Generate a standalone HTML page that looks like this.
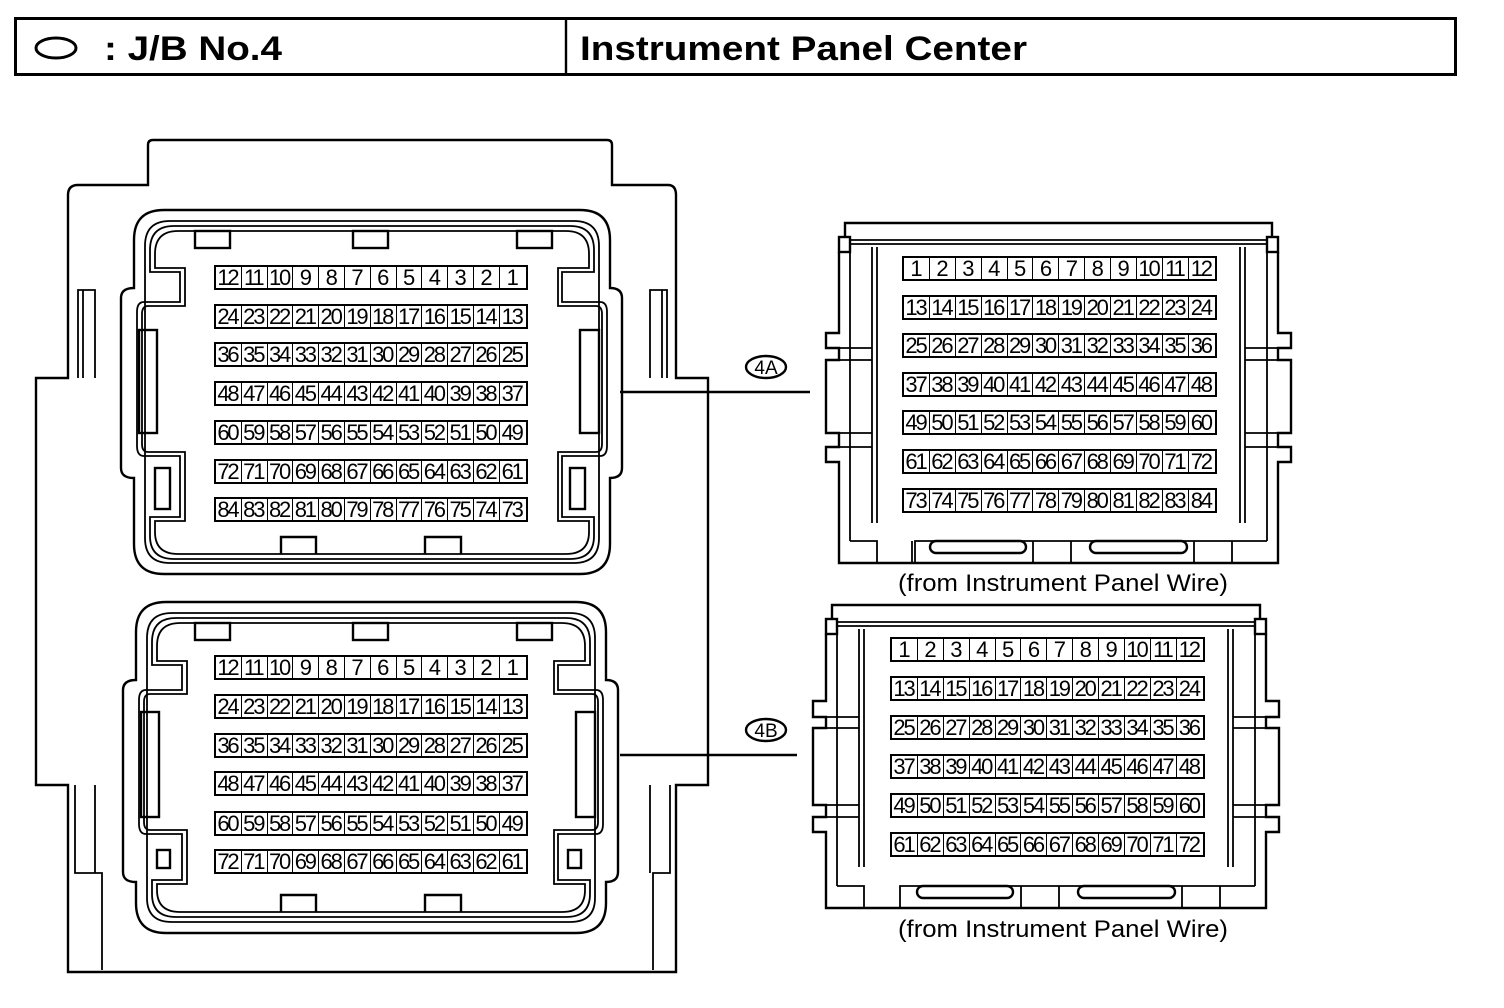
<!DOCTYPE html>
<html><head><meta charset="utf-8"><style>
html,body{margin:0;padding:0;background:#fff}
body{width:1504px;height:1008px;position:relative;overflow:hidden;font-family:"Liberation Sans",sans-serif}
svg{position:absolute;left:0;top:0}
.g{position:absolute;display:flex;border:2.5px solid #000;height:21px;background:#fff}
.g i{font-style:normal;box-sizing:border-box;width:25.8px;height:21px;border-right:1.5px solid #000;text-align:center;font:22px/22px "Liberation Sans",sans-serif;letter-spacing:-2.2px;text-indent:-2px;color:#000;white-space:nowrap;overflow:hidden}
.g i:last-child{border-right:none}
.r i{width:25.9px}
</style></head><body>
<svg width="1504" height="1008" viewBox="0 0 1504 1008" fill="none" stroke="#000" stroke-width="2.4">
<!-- header -->
<rect x="15.5" y="18.5" width="1440" height="56" stroke-width="3"/>
<line x1="566" y1="18" x2="566" y2="75"/>
<ellipse cx="56" cy="48" rx="20" ry="10" stroke-width="3"/>
<text x="104" y="60" fill="#000" stroke="none" font-family="Liberation Sans" font-weight="bold" font-size="34" textLength="178" lengthAdjust="spacingAndGlyphs">: J/B No.4</text>
<text x="580" y="60" fill="#000" stroke="none" font-family="Liberation Sans" font-weight="bold" font-size="34" textLength="447" lengthAdjust="spacingAndGlyphs">Instrument Panel Center</text>

<!-- housing -->
<path d="M68,972 V785 H36 V378 H68 V195 Q68,185 78,185 H148 V145 Q148,140 153,140 H607 Q612,140 612,145 V185 H668 Q676,185 676,195 V378 H708 V785 H676 V972 Z"/>
<path d="M78,378 V290 H95 V378 M83,290 V378" stroke-width="1.8"/>
<path d="M667,378 V290 H650 V378 M662,290 V378" stroke-width="1.8"/>
<path d="M75,785 V873 H102 V970 M95,785 V873" stroke-width="1.8"/>
<path d="M670,785 V873 H653 V970 M650,785 V873" stroke-width="1.8"/>

<!-- left connector A -->
<g transform="translate(134,210)">
<path d="M30,0 H446 Q476,0 476,30 V78 Q488,78 488,88 V258 Q488,268 476,268 V334 Q476,364 446,364 H30 Q0,364 0,334 V268 Q-13,268 -13,258 V88 Q-13,78 0,78 V30 Q0,0 30,0 Z"/>
<path d="M36,11 H440 Q465,11 465,36 V328 Q465,353 440,353 H36 Q11,353 11,328 V36 Q11,11 36,11 Z" stroke-width="1.8"/>
<path d="M40,16 H436 Q460,16 460,40 V62 H428 V92 H466 Q473,92 473,102 V236 Q473,246 466,246 H428 V307 H460 V326 Q460,349 436,349 H40 Q16,349 16,326 V307 H46 V246 H10 Q3,246 3,236 V102 Q3,92 10,92 H46 V62 H16 V40 Q16,16 40,16 Z" stroke-width="1.8"/>
<path d="M44,21 H432 Q455,21 455,44 V58 H424 V96 H462 Q468,96 468,104 V234 Q468,242 462,242 H424 V311 H455 V322 Q455,344 432,344 H44 Q21,344 21,322 V311 H51 V242 H14 Q8,242 8,234 V104 Q8,96 14,96 H51 V58 H21 V44 Q21,21 44,21 Z" stroke-width="1.8"/>
<rect x="61" y="21" width="35" height="17" fill="#fff"/>
<rect x="219" y="21" width="35" height="17" fill="#fff"/>
<rect x="383" y="21" width="35" height="17" fill="#fff"/>
<path d="M147,344 V327 H182 V344 M291,344 V327 H327 V344"/>
<rect x="5" y="120" width="18" height="103"/>
<rect x="446" y="120" width="19" height="103"/>
<rect x="21" y="258" width="15" height="41"/>
<rect x="436" y="258" width="15" height="41"/>
</g>

<!-- left connector B -->
<g transform="translate(136,602)">
<path d="M30,0 H440 Q470,0 470,30 V78 Q482,78 482,88 V270 Q482,280 470,280 V301 Q470,331 440,331 H30 Q0,331 0,301 V280 Q-13,280 -13,270 V88 Q-13,78 0,78 V30 Q0,0 30,0 Z"/>
<path d="M36,11 H434 Q459,11 459,36 V296 Q459,320 434,320 H36 Q11,320 11,296 V36 Q11,11 36,11 Z" stroke-width="1.8"/>
<path d="M40,16 H430 Q454,16 454,40 V63 H422 V88 H460 Q467,88 467,98 V222 Q467,232 460,232 H422 V278 H454 V292 Q454,315 430,315 H40 Q16,315 16,292 V278 H46 V232 H10 Q3,232 3,222 V98 Q3,88 10,88 H46 V63 H16 V40 Q16,16 40,16 Z" stroke-width="1.8"/>
<path d="M44,21 H426 Q449,21 449,44 V59 H418 V92 H456 Q462,92 462,100 V220 Q462,228 456,228 H418 V282 H449 V288 Q449,310 426,310 H44 Q21,310 21,288 V282 H51 V228 H14 Q8,228 8,220 V100 Q8,92 14,92 H51 V59 H21 V44 Q21,21 44,21 Z" stroke-width="1.8"/>
<rect x="59" y="21" width="35" height="17" fill="#fff"/>
<rect x="217" y="21" width="35" height="17" fill="#fff"/>
<rect x="381" y="21" width="35" height="17" fill="#fff"/>
<path d="M145,310 V293 H180 V310 M289,310 V293 H325 V310"/>
<rect x="5" y="110" width="18" height="105"/>
<rect x="440" y="110" width="19" height="105"/>
<rect x="21" y="248" width="13" height="18"/>
<rect x="432" y="248" width="13" height="18"/>
</g>

<!-- leader lines & labels -->
<line x1="620" y1="392" x2="810" y2="392"/>
<ellipse cx="766" cy="367" rx="20" ry="11"/>
<text x="766" y="374" text-anchor="middle" fill="#000" stroke="none" font-family="Liberation Sans" font-size="19">4A</text>
<line x1="620" y1="755" x2="797" y2="755"/>
<ellipse cx="766" cy="730" rx="20" ry="11"/>
<text x="766" y="737" text-anchor="middle" fill="#000" stroke="none" font-family="Liberation Sans" font-size="19">4B</text>

<!-- right connector A -->
<g transform="translate(839,223)">
<path d="M6,14 V0 H433 V14"/>
<rect x="0" y="14" width="11" height="15"/>
<rect x="428" y="14" width="11" height="15"/>
<path d="M11,17 H428 M11,21 H428" stroke-width="1.8"/>
<path d="M0,29 V110 H-13 V125 H0 V137 H-13 V210 H0 V224 H-13 V239 H0 V340 H439 V239 H452 V224 H439 V210 H452 V137 H439 V125 H452 V110 H439 V29"/>
<path d="M11,29 V318 M33,24 V300 M38,24 V300 M428,29 V318 M406,24 V300 M401,24 V300" stroke-width="1.8"/>
<path d="M0,125 H33 M0,137 H33 M0,210 H33 M0,224 H33 M439,125 H406 M439,137 H406 M439,210 H406 M439,224 H406" stroke-width="1.8"/>
<path d="M11,318 H38 V340 M38,318 V340 M76,340 V318 H114 M73,318 V340 M114,318 H194 M194,340 V318 H232 V340 M232,318 H355 M355,340 V318 H393 V340 M393,318 H428" stroke-width="1.8"/>
<rect x="91" y="318" width="96" height="12" rx="6"/>
<rect x="251" y="318" width="97" height="12" rx="6"/>
</g>
<text x="898" y="591" fill="#000" stroke="none" font-family="Liberation Sans" font-size="24" textLength="330" lengthAdjust="spacingAndGlyphs">(from Instrument Panel Wire)</text>

<!-- right connector B -->
<g transform="translate(826,605)">
<path d="M6,14 V0 H434 V14"/>
<rect x="0" y="14" width="11" height="15"/>
<rect x="429" y="14" width="11" height="15"/>
<path d="M11,17 H429 M11,21 H429" stroke-width="1.8"/>
<path d="M0,29 V96 H-13 V112 H0 V123 H-13 V200 H0 V212 H-13 V227 H0 V303 H440 V227 H453 V212 H440 V200 H453 V123 H440 V112 H453 V96 H440 V29"/>
<path d="M11,29 V281 M33,24 V262 M38,24 V262 M429,29 V281 M407,24 V262 M402,24 V262" stroke-width="1.8"/>
<path d="M0,112 H33 M0,123 H33 M0,200 H33 M0,212 H33 M440,112 H407 M440,123 H407 M440,200 H407 M440,212 H407" stroke-width="1.8"/>
<path d="M11,281 H38 V303 M74,303 V281 H112 M112,281 H195 M195,303 V281 H233 V303 M233,281 H356 M356,303 V281 H394 V303 M394,281 H429" stroke-width="1.8"/>
<rect x="91" y="281" width="96" height="12" rx="6"/>
<rect x="252" y="281" width="97" height="12" rx="6"/>
</g>
<text x="898" y="937" fill="#000" stroke="none" font-family="Liberation Sans" font-size="24" textLength="330" lengthAdjust="spacingAndGlyphs">(from Instrument Panel Wire)</text>
</svg>

<!-- left A grids -->
<div class="g" style="left:214px;top:265px"><i>12</i><i>11</i><i>10</i><i>9</i><i>8</i><i>7</i><i>6</i><i>5</i><i>4</i><i>3</i><i>2</i><i>1</i></div>
<div class="g" style="left:214px;top:304px"><i>24</i><i>23</i><i>22</i><i>21</i><i>20</i><i>19</i><i>18</i><i>17</i><i>16</i><i>15</i><i>14</i><i>13</i></div>
<div class="g" style="left:214px;top:342px"><i>36</i><i>35</i><i>34</i><i>33</i><i>32</i><i>31</i><i>30</i><i>29</i><i>28</i><i>27</i><i>26</i><i>25</i></div>
<div class="g" style="left:214px;top:381px"><i>48</i><i>47</i><i>46</i><i>45</i><i>44</i><i>43</i><i>42</i><i>41</i><i>40</i><i>39</i><i>38</i><i>37</i></div>
<div class="g" style="left:214px;top:420px"><i>60</i><i>59</i><i>58</i><i>57</i><i>56</i><i>55</i><i>54</i><i>53</i><i>52</i><i>51</i><i>50</i><i>49</i></div>
<div class="g" style="left:214px;top:459px"><i>72</i><i>71</i><i>70</i><i>69</i><i>68</i><i>67</i><i>66</i><i>65</i><i>64</i><i>63</i><i>62</i><i>61</i></div>
<div class="g" style="left:214px;top:497px"><i>84</i><i>83</i><i>82</i><i>81</i><i>80</i><i>79</i><i>78</i><i>77</i><i>76</i><i>75</i><i>74</i><i>73</i></div>
<!-- left B grids -->
<div class="g" style="left:214px;top:655px"><i>12</i><i>11</i><i>10</i><i>9</i><i>8</i><i>7</i><i>6</i><i>5</i><i>4</i><i>3</i><i>2</i><i>1</i></div>
<div class="g" style="left:214px;top:694px"><i>24</i><i>23</i><i>22</i><i>21</i><i>20</i><i>19</i><i>18</i><i>17</i><i>16</i><i>15</i><i>14</i><i>13</i></div>
<div class="g" style="left:214px;top:733px"><i>36</i><i>35</i><i>34</i><i>33</i><i>32</i><i>31</i><i>30</i><i>29</i><i>28</i><i>27</i><i>26</i><i>25</i></div>
<div class="g" style="left:214px;top:771px"><i>48</i><i>47</i><i>46</i><i>45</i><i>44</i><i>43</i><i>42</i><i>41</i><i>40</i><i>39</i><i>38</i><i>37</i></div>
<div class="g" style="left:214px;top:811px"><i>60</i><i>59</i><i>58</i><i>57</i><i>56</i><i>55</i><i>54</i><i>53</i><i>52</i><i>51</i><i>50</i><i>49</i></div>
<div class="g" style="left:214px;top:849px"><i>72</i><i>71</i><i>70</i><i>69</i><i>68</i><i>67</i><i>66</i><i>65</i><i>64</i><i>63</i><i>62</i><i>61</i></div>
<!-- right A grids -->
<div class="g r" style="left:902px;top:256px"><i>1</i><i>2</i><i>3</i><i>4</i><i>5</i><i>6</i><i>7</i><i>8</i><i>9</i><i>10</i><i>11</i><i>12</i></div>
<div class="g r" style="left:902px;top:295px"><i>13</i><i>14</i><i>15</i><i>16</i><i>17</i><i>18</i><i>19</i><i>20</i><i>21</i><i>22</i><i>23</i><i>24</i></div>
<div class="g r" style="left:902px;top:333px"><i>25</i><i>26</i><i>27</i><i>28</i><i>29</i><i>30</i><i>31</i><i>32</i><i>33</i><i>34</i><i>35</i><i>36</i></div>
<div class="g r" style="left:902px;top:372px"><i>37</i><i>38</i><i>39</i><i>40</i><i>41</i><i>42</i><i>43</i><i>44</i><i>45</i><i>46</i><i>47</i><i>48</i></div>
<div class="g r" style="left:902px;top:410px"><i>49</i><i>50</i><i>51</i><i>52</i><i>53</i><i>54</i><i>55</i><i>56</i><i>57</i><i>58</i><i>59</i><i>60</i></div>
<div class="g r" style="left:902px;top:449px"><i>61</i><i>62</i><i>63</i><i>64</i><i>65</i><i>66</i><i>67</i><i>68</i><i>69</i><i>70</i><i>71</i><i>72</i></div>
<div class="g r" style="left:902px;top:488px"><i>73</i><i>74</i><i>75</i><i>76</i><i>77</i><i>78</i><i>79</i><i>80</i><i>81</i><i>82</i><i>83</i><i>84</i></div>
<!-- right B grids -->
<div class="g r" style="left:890px;top:637px"><i>1</i><i>2</i><i>3</i><i>4</i><i>5</i><i>6</i><i>7</i><i>8</i><i>9</i><i>10</i><i>11</i><i>12</i></div>
<div class="g r" style="left:890px;top:676px"><i>13</i><i>14</i><i>15</i><i>16</i><i>17</i><i>18</i><i>19</i><i>20</i><i>21</i><i>22</i><i>23</i><i>24</i></div>
<div class="g r" style="left:890px;top:715px"><i>25</i><i>26</i><i>27</i><i>28</i><i>29</i><i>30</i><i>31</i><i>32</i><i>33</i><i>34</i><i>35</i><i>36</i></div>
<div class="g r" style="left:890px;top:754px"><i>37</i><i>38</i><i>39</i><i>40</i><i>41</i><i>42</i><i>43</i><i>44</i><i>45</i><i>46</i><i>47</i><i>48</i></div>
<div class="g r" style="left:890px;top:793px"><i>49</i><i>50</i><i>51</i><i>52</i><i>53</i><i>54</i><i>55</i><i>56</i><i>57</i><i>58</i><i>59</i><i>60</i></div>
<div class="g r" style="left:890px;top:832px"><i>61</i><i>62</i><i>63</i><i>64</i><i>65</i><i>66</i><i>67</i><i>68</i><i>69</i><i>70</i><i>71</i><i>72</i></div>
</body></html>
